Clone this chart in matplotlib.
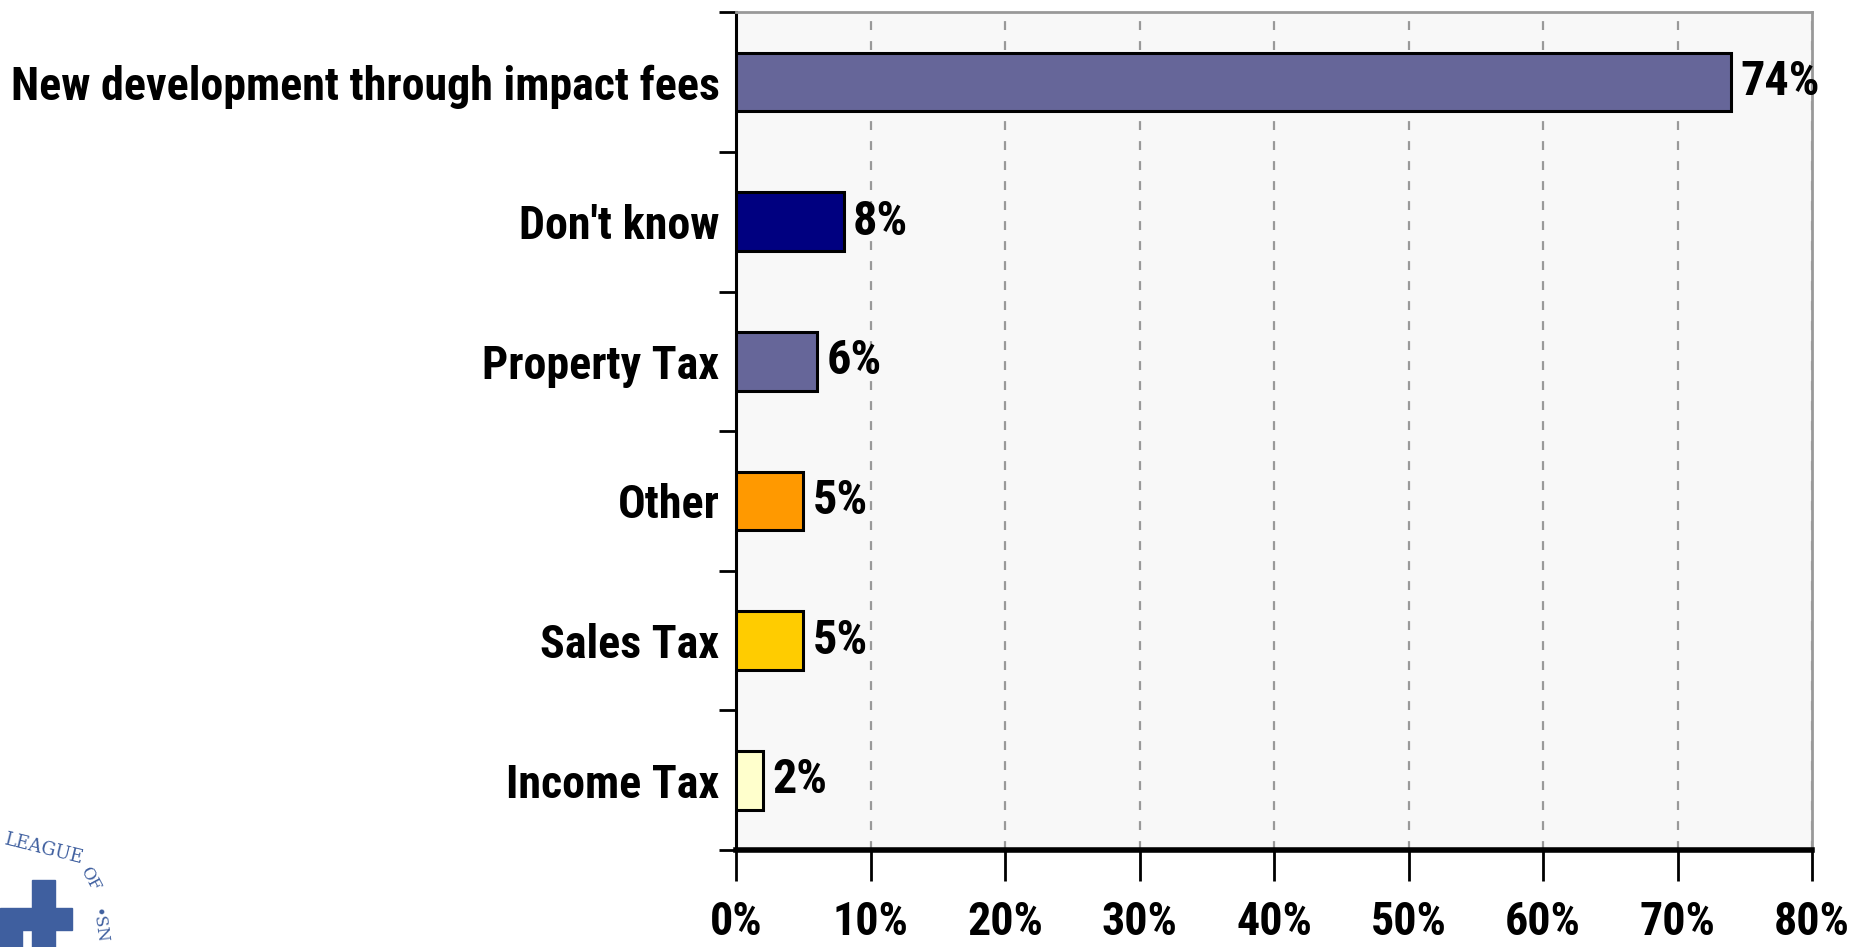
import matplotlib
matplotlib.use("Agg")
import matplotlib.pyplot as plt
from matplotlib import font_manager
from matplotlib.ticker import FuncFormatter, FixedLocator
import matplotlib.patches as mpatches

categories = ["New development through impact fees", "Don't know", "Property Tax",
              "Other", "Sales Tax", "Income Tax"]
values = [74, 8, 6, 5, 5, 2]
colors = ["#666699", "#000080", "#666699", "#FF9900", "#FFCC00", "#FFFFCC"]
xticks = [0, 10, 20, 30, 40, 50, 60, 70, 80]

# choose a condensed bold font if one is installed
names = {f.name for f in font_manager.fontManager.ttflist}
stretch = "normal"
fam = None
for cand in ["Liberation Sans Narrow", "Roboto Condensed", "Open Sans Condensed", "Arial Narrow"]:
    if cand in names:
        fam = [cand, "DejaVu Sans"]
        break
if fam is None:
    cond = [f for f in font_manager.fontManager.ttflist
            if f.name == "DejaVu Sans" and "condensed" in str(f.stretch).lower()]
    if cond:
        fam = ["DejaVu Sans"]
        stretch = "condensed"
    else:
        fam = ["Liberation Sans", "DejaVu Sans"]
plt.rcParams['font.family'] = fam
plt.rcParams['font.weight'] = 'bold'
plt.rcParams['font.stretch'] = stretch

fig = plt.figure(figsize=(18.56, 9.47), dpi=100)

# size the font so the longest label spans about 708 px (as in the reference)
probe = fig.text(0, 0, categories[0], fontsize=30, fontweight="bold", fontstretch=stretch)
fig.canvas.draw()
w = probe.get_window_extent().width
probe.remove()
fs = 30 * 708.0 / w

ax = fig.add_axes([0.3966, 0.1024, 0.5797, 0.8846])
ax.set_facecolor("#F8F8F8")

ypos = list(range(len(categories)))
ax.barh(ypos, values, height=0.42, color=colors, edgecolor="black", linewidth=2.2, zorder=3)
for y, v in zip(ypos, values):
    ax.text(v + 0.7, y, f"{v}%", va="center", ha="left", fontsize=fs * 1.05,
            fontweight="bold", fontstretch=stretch, zorder=4)

ax.set_ylim(len(categories) - 0.5, -0.5)
ax.set_xlim(0, 80)
ax.xaxis.set_major_locator(FixedLocator(xticks))
ax.xaxis.set_major_formatter(FuncFormatter(lambda x, p: f"{int(x)}%"))
ax.set_yticks([i - 0.5 for i in range(len(categories) + 1)])
ax.set_yticklabels([])
ax.set_yticks(ypos, minor=True)
ax.set_yticklabels(categories, minor=True, fontsize=fs, fontweight="bold")
ax.tick_params(axis="y", which="minor", length=0, pad=12)
ax.tick_params(axis="y", which="major", length=12, width=2, direction="out")
ax.tick_params(axis="x", which="major", length=22, width=2, direction="out", pad=14, labelsize=fs)

ax.grid(axis="x", linestyle=(0, (4, 5)), color="#999999", linewidth=1.6, zorder=1)
for s in ["top", "right"]:
    ax.spines[s].set_color("#999999")
    ax.spines[s].set_linewidth(2)
ax.spines["left"].set_linewidth(2.2)
ax.spines["bottom"].set_linewidth(4)

# partial logo at lower-left (approximation of the cropped emblem)
lc = "#3F5F9F"
fig.patches.append(mpatches.Rectangle((0.0172, 0.0), 0.0124, 0.0707, transform=fig.transFigure, color=lc))
fig.patches.append(mpatches.Rectangle((0.0, 0.018), 0.0388, 0.023, transform=fig.transFigure, color=lc))
fig.patches.append(mpatches.Rectangle((0.0, 0.0), 0.012, 0.018, transform=fig.transFigure, color=lc))
fig.text(0.001, 0.088, "LEAGUE", fontsize=13, color=lc, family="DejaVu Serif",
         fontweight="normal", fontstretch="normal", rotation=-14)
fig.text(0.041, 0.060, "OF", fontsize=12, color=lc, family="DejaVu Serif",
         fontweight="normal", fontstretch="normal", rotation=-62)
fig.text(0.047, 0.006, "\u2022SN", fontsize=12, color=lc, family="DejaVu Serif",
         fontweight="normal", fontstretch="normal", rotation=-82)

fig.savefig("out.png", dpi=100)
